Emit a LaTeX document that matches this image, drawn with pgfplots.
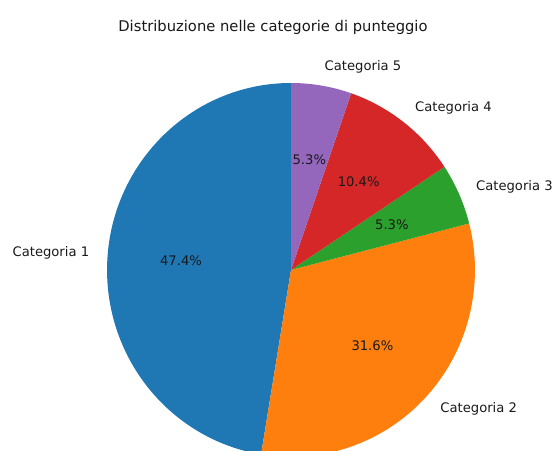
\documentclass[border=0pt]{standalone}
\usepackage{fontspec}
\setmainfont{DejaVu Sans}
\usepackage{pgfplots}
\usepackage{pgfplotstable}
\pgfplotsset{compat=1.18}
\definecolor{pie0}{HTML}{1F77B4}
\definecolor{pie1}{HTML}{FF7F0E}
\definecolor{pie2}{HTML}{2CA02C}
\definecolor{pie3}{HTML}{D62728}
\definecolor{pie4}{HTML}{9467BD}
\pgfplotstableread[col sep=comma]{
label,value
Categoria 1,47.4
Categoria 2,31.6
Categoria 3,5.3
Categoria 4,10.4
Categoria 5,5.3
}\piedata
\tikzset{lab/.style={font=\fontsize{13.2}{15.8}\selectfont, inner sep=0pt, text=black!90}}
\begin{document}
\begin{tikzpicture}
\begin{axis}[x=184bp, y=187bp, xmin=-1.582, xmax=1.446, ymin=-0.968, ymax=1.444,
  hide axis, clip=false]
\path (axis cs:-1.582,-0.968) rectangle (axis cs:1.446,1.444);
\begin{scope}
\clip (axis cs:-1.582,-0.968) rectangle (axis cs:1.446,1.444);
\def\cum{90}
\pgfplotsforeachungrouped \i in {0,...,4}{%
  \pgfplotstablegetelem{\i}{value}\of\piedata
  \let\val\pgfplotsretval
  \pgfmathsetmacro\b{\cum+3.6*\val}%
  \pgfmathsetmacro\sx{cos(\cum)}%
  \pgfmathsetmacro\sy{sin(\cum)}%
  \edef\temp{%
    \noexpand\fill[pie\i] (axis cs:0,0) -- (axis cs:\sx,\sy) arc[start angle=\cum, end angle=\b, x radius=184bp, y radius=187bp] -- cycle;
  }%
  \temp
  \let\cum\b
}
\end{scope}
\def\cum{90}
\pgfplotsforeachungrouped \i in {0,...,4}{%
  \pgfplotstablegetelem{\i}{value}\of\piedata
  \let\val\pgfplotsretval
  \pgfplotstablegetelem{\i}{label}\of\piedata
  \let\lab\pgfplotsretval
  \pgfmathsetmacro\b{\cum+3.6*\val}%
  \pgfmathsetmacro\m{(\cum+\b)/2}%
  \pgfmathsetmacro\lx{1.1*cos(\m)}%
  \pgfmathsetmacro\ly{1.1*sin(\m)}%
  \pgfmathsetmacro\px{0.6*cos(\m)}%
  \pgfmathsetmacro\py{0.6*sin(\m)}%
  \ifdim\lx pt<0pt \def\anc{east}\else\def\anc{west}\fi
  \edef\temp{%
    \noexpand\node[lab, anchor=\anc] at (axis cs:\lx,\ly) {\lab};
    \noexpand\node[lab, anchor=center] at (axis cs:\px,\py) {\val\noexpand\%};
  }%
  \temp
  \let\cum\b
}
\node[font=\fontsize{14.8}{17.8}\selectfont, inner sep=0pt, text=black!90] at (axis cs:-0.098,1.299) {Distribuzione nelle categorie di punteggio};
\end{axis}
\end{tikzpicture}
\end{document}
